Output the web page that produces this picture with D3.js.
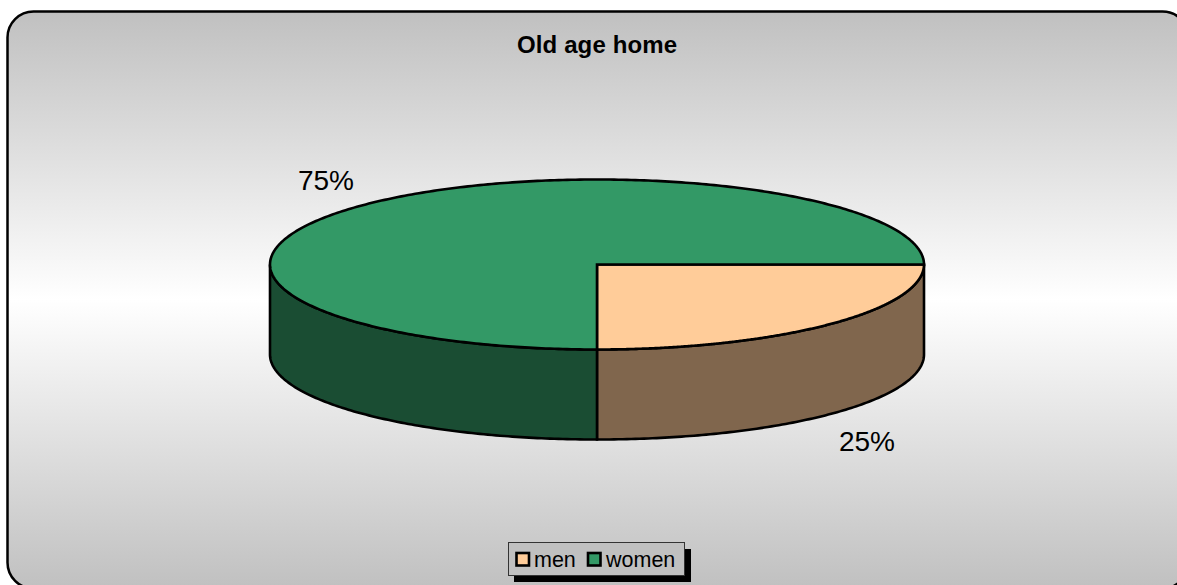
<!DOCTYPE html>
<html><head><meta charset="utf-8">
<script src="https://cdn.jsdelivr.net/npm/d3@7"></script>
<style>html,body{margin:0;padding:0;background:#fff;overflow:hidden}svg{display:block}text{font-family:"Liberation Sans",Arial,sans-serif;fill:#000}</style>
</head><body><svg id="c" width="1177" height="585"></svg>
<script>
const categories = ["men", "women"];
const values = [25, 75];
const labels = ["25%", "75%"];
const topColors = ["#FFCC99", "#339966"];
const sideColors = ["#80664D", "#1A4D33"];
const titleText = "Old age home";

const svg = d3.select("#c");
const defs = svg.append("defs");
const g = defs.append("linearGradient").attr("id","bg").attr("x1",0).attr("y1",0).attr("x2",0).attr("y2",1);
g.append("stop").attr("offset","0%").attr("stop-color","#c0c0c0");
g.append("stop").attr("offset","50%").attr("stop-color","#ffffff");
g.append("stop").attr("offset","100%").attr("stop-color","#c0c0c0");

svg.append("rect").attr("x",7.5).attr("y",11.5).attr("width",1181).attr("height",577).attr("rx",26).attr("ry",26)
  .attr("fill","url(#bg)").attr("stroke","#000").attr("stroke-width",2.5);

svg.append("text").attr("x",597).attr("y",53).attr("text-anchor","middle").attr("font-weight","bold").attr("font-size",24).attr("textLength",160).text(titleText);

const cx=597, cy=264.5, rx=327, ry=85, depth=90;
const sx=d3.scaleLinear().domain([-1,1]).range([cx-rx,cx+rx]);
const sy=d3.scaleLinear().domain([-1,1]).range([cy-ry,cy+ry]);
const pie=d3.pie().sort(null).startAngle(Math.PI/2).endAngle(Math.PI/2+2*Math.PI);
const arcs=pie(values);
const px=a=>sx(Math.sin(a)), py=a=>sy(-Math.cos(a));
const layer=svg.append("g").attr("stroke","#000").attr("stroke-width",2.6).attr("stroke-linejoin","miter");

arcs.forEach((d,i)=>{
  const a0=Math.max(d.startAngle,Math.PI/2), a1=Math.min(d.endAngle,3*Math.PI/2);
  if(a1<=a0) return;
  const p=d3.path();
  p.moveTo(px(a0),py(a0));
  p.lineTo(px(a0),py(a0)+depth);
  const n=120;
  d3.range(1,n+1).forEach(k=>{const a=a0+(a1-a0)*k/n;p.lineTo(px(a),py(a)+depth);});
  p.lineTo(px(a1),py(a1));
  d3.range(n-1,-1,-1).forEach(k=>{const a=a0+(a1-a0)*k/n;p.lineTo(px(a),py(a));});
  p.closePath();
  layer.append("path").attr("d",p.toString()).attr("fill",sideColors[i]);
});
arcs.forEach((d,i)=>{
  const n=360;
  const p=d3.path();
  p.moveTo(cx,cy);
  d3.range(0,n+1).forEach(k=>{const a=d.startAngle+(d.endAngle-d.startAngle)*k/n;p.lineTo(px(a),py(a));});
  p.closePath();
  layer.append("path").attr("d",p.toString()).attr("fill",topColors[i]);
});

svg.append("text").attr("x",867).attr("y",451).attr("text-anchor","middle").attr("font-size",28).attr("fill","#111").text(labels[0]);
svg.append("text").attr("x",326).attr("y",190).attr("text-anchor","middle").attr("font-size",28).attr("fill","#111").text(labels[1]);

svg.append("rect").attr("x",514).attr("y",549).attr("width",177).attr("height",33).attr("fill","#000");
svg.append("rect").attr("x",508.5).attr("y",542.5).attr("width",176).attr("height",33).attr("fill","#c0c0c0").attr("stroke","#333").attr("stroke-width",1);
const lx=[516.5,588], tx=[534,606];
categories.forEach((c,i)=>{
  svg.append("rect").attr("x",lx[i]).attr("y",553).attr("width",12.5).attr("height",12.5).attr("fill",topColors[i]).attr("stroke","#000").attr("stroke-width",2.6);
  svg.append("text").attr("x",tx[i]).attr("y",567).attr("font-size",21.5).text(c);
});
</script></body></html>
